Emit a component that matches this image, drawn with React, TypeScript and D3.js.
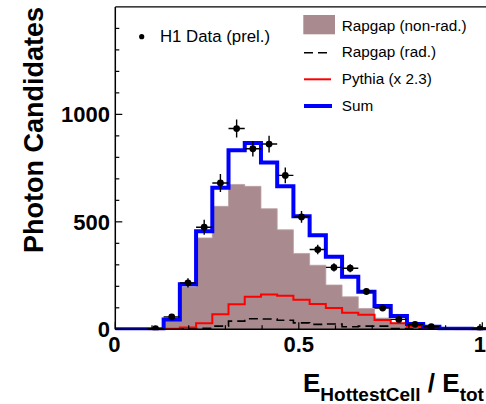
import React from 'react';
import * as d3 from 'd3';

const W = 486, H = 404;

// histogram binning (in E_HottestCell/E_tot units)
const binLo = 0.0875;
const binWidth = 0.0442;

// H1 data (prel.) per bin, null = empty bin
const dataVals: (number | null)[] = [3, 58, 216, 475, 681, 934, 840, 862, 716, 523, 371, 288, 284, 176, 99, 46, 23, 12, null, null, 2];
const dataErr: number[] = [3, 10, 21, 35, 42, 42, 36, 39, 37, 27, 22, 19, 19, 16, 12, 9, 7, 5, 0, 0, 23];
// Rapgap (non-rad.)
const rapgapNonRad = [0, 44, 198, 425, 572, 674, 665, 561, 463, 353, 298, 206, 151, 97, 52, 30, 14, 7, 3, 1, 0];
// Rapgap (rad.)
const rapgapRad = [0, 0, 2, 5, 15, 38, 49, 48, 42, 30, 23, 25, 12, 15, 15, 3, 1, 0, 0, 0, 0];
// Pythia (x 2.3)
const pythia = [0, 2, 8, 28, 70, 116, 151, 162, 156, 137, 118, 99, 77, 68, 43, 28, 12, 5, 1, 0, 0];
// Sum
const sumVals = [0, 46, 210, 456, 659, 833, 867, 776, 665, 526, 438, 338, 244, 175, 108, 62, 25, 12, 3, 2, 1];

const yTicksMajor = [0, 500, 1000];
const xTicksMajor = [0, 0.5, 1];
const xTickLabels = ['0', '0.5', '1'];

const legendItems = ['Rapgap (non-rad.)', 'Rapgap (rad.)', 'Pythia (x 2.3)', 'Sum'];

const FONT = '"Liberation Sans", Arial, Helvetica, sans-serif';

export default function App() {
  const x = d3.scaleLinear().domain([0, 1]).range([115.3, 482.3]);
  const y = d3.scaleLinear().domain([0, 1500]).range([329.3, 6.9]);
  const n = sumVals.length;
  const edges = d3.range(n + 1).map((i) => binLo + i * binWidth);

  const stepLine = d3
    .line<[number, number]>()
    .x((d) => x(d[0]))
    .y((d) => y(d[1]))
    .curve(d3.curveStepAfter);

  const stepArea = d3
    .area<[number, number]>()
    .x((d) => x(d[0]))
    .y0(y(0))
    .y1((d) => y(d[1]))
    .curve(d3.curveStepAfter);

  const pts = (vals: number[], lead = false): [number, number][] => {
    const p: [number, number][] = vals.map((v, i) => [edges[i], v]);
    p.push([edges[n], vals[n - 1]]);
    if (lead) p.unshift([0, 0]);
    return p;
  };
  const areaPts = (vals: number[]): [number, number][] => {
    const p: [number, number][] = vals.map((v, i) => [edges[i], v]);
    p.push([edges[n], 0]);
    return p;
  };

  const yMinor = d3.range(0, 1500, 100);
  const xMinor = d3.range(0, 1.0001, 0.1);

  const x0 = x(0), y0 = y(0);

  return (
    <svg
      width={W}
      height={H}
      style={{ position: 'absolute', left: 0, top: 0, background: '#fff' }}
      fontFamily={FONT}
    >
      <rect x={0} y={0} width={W} height={H} fill="#fff" />
      <defs>
        <clipPath id="plotclip">
          <rect x={x0} y={0} width={W - x0} height={y0 + 1} />
        </clipPath>
      </defs>

      <g clipPath="url(#plotclip)">
        <path d={stepArea(areaPts(rapgapNonRad)) || ''} fill="#a98b8f" stroke="#b9a0a3" strokeWidth={0.8} />
        <path d={stepLine(pts(rapgapRad)) || ''} fill="none" stroke="#000" strokeWidth={1.6} strokeDasharray="9,5" />
        <path d={stepLine(pts(pythia)) || ''} fill="none" stroke="#ff0000" strokeWidth={2} />
        <path d={stepLine(pts(sumVals, true)) || ''} fill="none" stroke="#0000ff" strokeWidth={4} />

        {dataVals.map((v, i) => {
          if (v === null) return null;
          const c = binLo + (i + 0.5) * binWidth;
          const cx = x(c);
          const cy = y(v);
          return (
            <g key={i}>
              <line x1={x(edges[i])} x2={x(edges[i + 1])} y1={cy} y2={cy} stroke="#000" strokeWidth={1.4} />
              <line x1={cx} x2={cx} y1={y(v - dataErr[i])} y2={y(v + dataErr[i])} stroke="#000" strokeWidth={1.4} />
              <circle cx={cx} cy={cy} r={3.4} fill="#000" />
            </g>
          );
        })}
      </g>

      {/* frame */}
      <line x1={x0} x2={W} y1={y(1500)} y2={y(1500)} stroke="#000" strokeWidth={1.2} />
      <line x1={x0} x2={x0} y1={y(1500)} y2={y0} stroke="#000" strokeWidth={1.5} />
      <line x1={x0} x2={W} y1={y0} y2={y0} stroke="#000" strokeWidth={1.5} />

      {/* y ticks */}
      {yMinor.map((t) => (
        <line key={'ym' + t} x1={x0} x2={x0 + (t % 500 === 0 ? 7 : 4)} y1={y(t)} y2={y(t)} stroke="#000" strokeWidth={1.2} />
      ))}
      {yTicksMajor.map((t) => (
        <text key={'yl' + t} x={110} y={y(t)} dy="0.36em" textAnchor="end" fontSize={22} fontWeight="bold">
          {t}
        </text>
      ))}

      {/* x ticks */}
      {xMinor.map((t, i) => (
        <line key={'xm' + i} x1={x(t)} x2={x(t)} y1={y0} y2={y0 - (i % 5 === 0 ? 7 : 4)} stroke="#000" strokeWidth={1.2} />
      ))}
      {xTicksMajor.map((t, i) => (
        <text key={'xl' + i} x={x(t) - (i === 0 ? 1 : i === 2 ? 2.5 : 0)} y={352} textAnchor="middle" fontSize={22} fontWeight="bold">
          {xTickLabels[i]}
        </text>
      ))}

      {/* axis titles */}
      <text transform={`translate(43,7) rotate(-90)`} textAnchor="end" fontSize={27} fontWeight="bold">
        Photon Candidates
      </text>
      <text x={303} y={392} fontSize={26} fontWeight="bold">
        E
        <tspan fontSize={19} dy={9}>HottestCell</tspan>
        <tspan dy={-9}> / E</tspan>
        <tspan fontSize={19} dy={9}>tot</tspan>
      </text>

      {/* legend: data */}
      <circle cx={141.7} cy={36.7} r={2.6} fill="#000" />
      <text x={160} y={42} fontSize={16.8}>H1 Data (prel.)</text>

      {/* legend: MC */}
      <rect x={303.3} y={15} width={31.7} height={19.3} fill="#a98b8f" />
      <line x1={304} x2={330} y1={52.7} y2={52.7} stroke="#000" strokeWidth={1.6} strokeDasharray="9,5" />
      <line x1={304} x2={331} y1={79.3} y2={79.3} stroke="#ff0000" strokeWidth={2} />
      <line x1={304} x2={332} y1={106} y2={106} stroke="#0000ff" strokeWidth={4} />
      {legendItems.map((s, i) => (
        <text key={s} x={341.7} y={30.5 + i * 26.7} fontSize={15.3}>
          {s}
        </text>
      ))}
    </svg>
  );
}
